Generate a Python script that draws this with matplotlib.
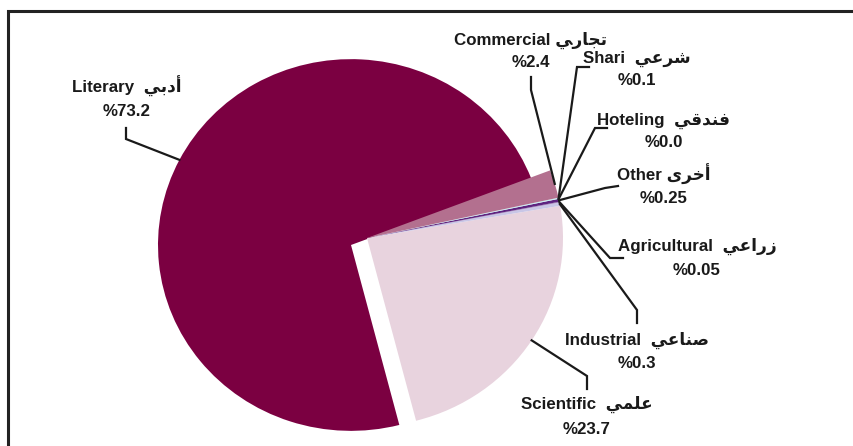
import numpy as np
import matplotlib
matplotlib.use("Agg")
import matplotlib.pyplot as plt

# ---------------- data ----------------
categories = ["Scientific", "Industrial", "Agricultural", "Other", "Hoteling", "Shari", "Commercial", "Literary"]
# Arabic names written in visual order with presentation forms (matplotlib does no shaping)
arabic = {
    "Scientific":   "\uFEF2\uFEE4\uFEE0\uFECB",              # علمي
    "Industrial":   "\uFEF2\uFECB\uFE8E\uFEE8\uFEBB",        # صناعي
    "Agricultural": "\uFEF2\uFECB\uFE8D\uFEAD\uFEAF",        # زراعي
    "Other":        "\uFEEF\uFEAE\uFEA7\uFE83",              # أخرى
    "Hoteling":     "\uFEF2\uFED7\uFEAA\uFEE8\uFED3",        # فندقي
    "Shari":        "\uFEF2\uFECB\uFEAE\uFEB7",              # شرعي
    "Commercial":   "\uFEF2\uFEAD\uFE8E\uFEA0\uFE97",        # تجاري
    "Literary":     "\uFEF2\uFE91\uFEA9\uFE83",              # أدبي
}
values = [23.7, 0.3, 0.05, 0.25, 0.0, 0.1, 2.4, 73.2]
value_labels = ["%23.7", "%0.3", "%0.05", "%0.25", "%0.0", "%0.1", "%2.4", "%73.2"]

# ---------------- style / layout ----------------
colors = ["#E8D3DE", "#C9C6E6", "#8B63A8", "#5E2380", "#FFFFFF", "#C6EEF2", "#B3708F", "#7B0041"]
W, H = 854, 446
K = 0.963          # slight vertical squash of the original picture
R = 196            # radius of the small slices / scientific
R_LIT = 193        # radius of the big slice
pie_center = (367, 238)      # image px
lit_center = (351, 245)      # image px (big slice drawn offset)

def P(x, y):
    return (x, (H - y) / K)

# label layout: (text x, baseline y line1, baseline y line2, leader start, elbow)
layout = {
    "Literary":     (127, 93, 116, (126, 128), (126, 139)),
    "Commercial":   (531, 45, 67, (531, 77), (531, 90)),
    "Shari":        (637, 63, 85, (589, 67), (577, 67)),
    "Hoteling":     (664, 125, 147, (607, 128), (595, 128)),
    "Other":        (664, 181, 203, (618, 186), (605, 188)),
    "Agricultural": (697, 251, 275, (623, 258), (610, 258)),
    "Industrial":   (637, 345, 368, (637, 323), (637, 310)),
    "Scientific":   (587, 409, 434, (587, 389), (587, 376)),
}
spacer = {"Commercial": " ", "Other": " ", "Literary": "  "}

fig = plt.figure(figsize=(W / 100, H / 100), dpi=100)
ax = fig.add_axes([0, 0, 1, 1])

wedges, _ = ax.pie(values, colors=colors, startangle=-75.5, counterclock=True,
                   radius=R, center=P(*pie_center), normalize=True,
                   wedgeprops=dict(linewidth=0), frame=False)
lit = categories.index("Literary")
wedges[lit].set_center(P(*lit_center))
wedges[lit].set_radius(R_LIT)
wedges[lit].set_zorder(0.5)
for i, w in enumerate(wedges):
    if i != lit:
        w.set_zorder(1)

ax.set_aspect("auto")
ax.set_xlim(0, W)
ax.set_ylim(0, H / K)
ax.axis("off")

font = ["Liberation Sans", "DejaVu Sans"]
for i, cat in enumerate(categories):
    w = wedges[i]
    mid = np.deg2rad((w.theta1 + w.theta2) / 2)
    cx, cy = w.center
    anchor = (cx + w.r * np.cos(mid), cy + w.r * np.sin(mid))
    tx, b1, b2, start, elbow = layout[cat]
    s = P(*start)
    e = P(*elbow)
    ax.plot([s[0], e[0], anchor[0]], [s[1], e[1], anchor[1]], color="#1a1a1a",
            lw=1.6, solid_joinstyle="miter", zorder=3, clip_on=False)
    sp = spacer.get(cat, "  ")
    ax.text(*P(tx, b1), cat + sp + arabic[cat], ha="center", va="baseline",
            fontsize=12.2, fontweight="bold", family=font, color="#1a1a1a", zorder=4)
    ax.text(*P(tx, b2), value_labels[i], ha="center", va="baseline",
            fontsize=12.2, fontweight="bold", family=font, color="#1a1a1a", zorder=4)

# outer frame (partially outside the picture, as in the original)
ax.plot([P(8.5, H + 10)[0], P(8.5, 10.5)[0], P(W + 10, 10.5)[0]],
        [P(8.5, H + 10)[1], P(8.5, 10.5)[1], P(W + 10, 10.5)[1]],
        color="#222222", lw=2.2, solid_joinstyle="miter", clip_on=False)

fig.savefig("out.png", dpi=100, facecolor="white")
